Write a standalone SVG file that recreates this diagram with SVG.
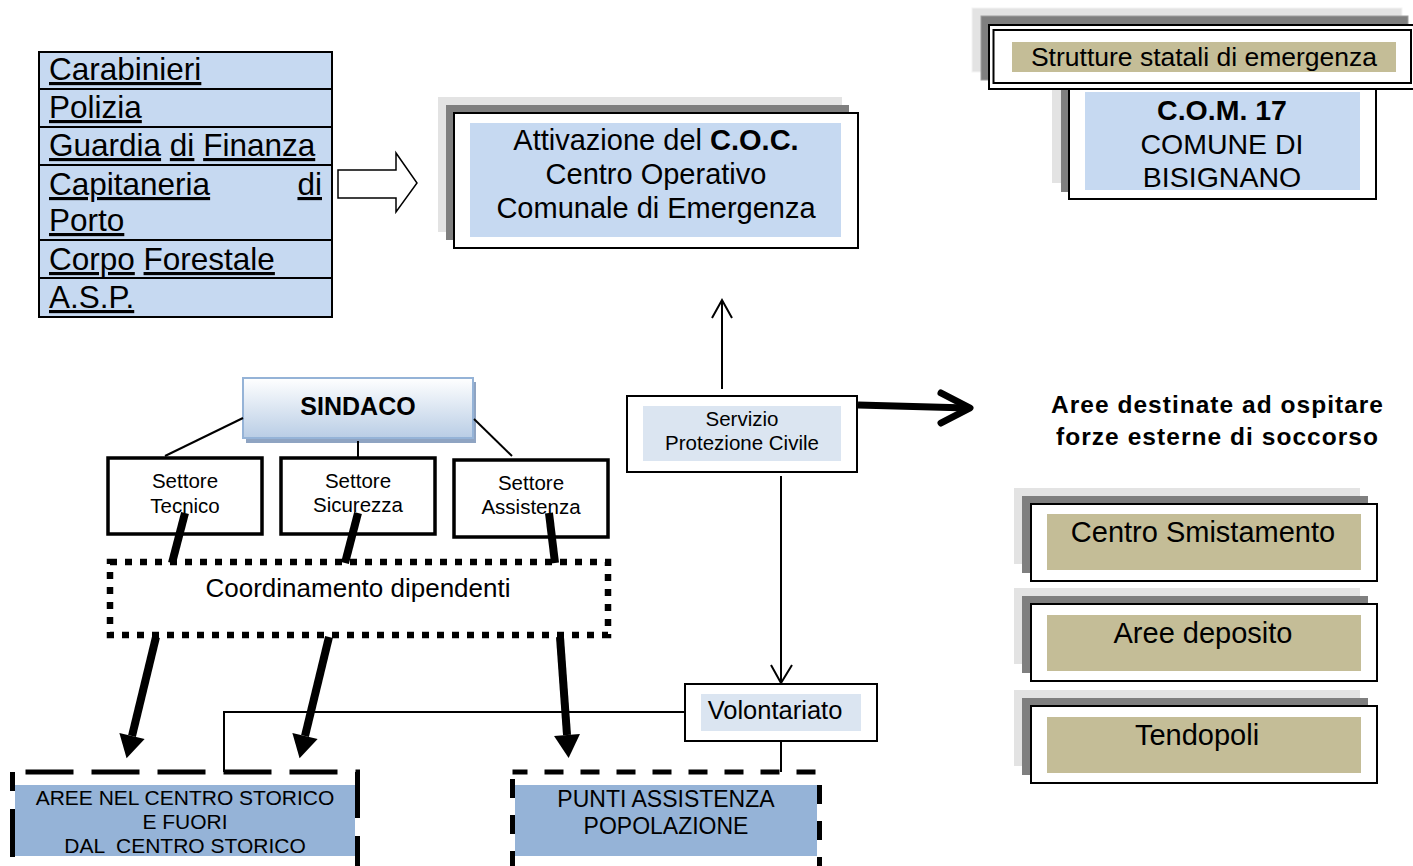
<svg xmlns="http://www.w3.org/2000/svg" width="1413" height="866" viewBox="0 0 1413 866">
  <defs>
    <style>
      text { font-family: "Liberation Sans", Arial, sans-serif; fill: #000; }
      .c { text-anchor: middle; }
      .b { font-weight: bold; }
      .u { text-decoration: underline; }
      .frame { fill: #fff; stroke: #000; stroke-width: 2; }
      .thin { fill: none; stroke: #000; stroke-width: 2; }
      .thick { fill: none; stroke: #000; stroke-width: 8; }
      .shL { fill: #e3e3e3; }
      .shD { fill: #7f7f7f; }
      .blue { fill: #c6d9f1; }
      .pale { fill: #dbe5f1; }
      .mid { fill: #95b3d7; }
      .tan { fill: #c4bd97; }
      .sector { fill: #fff; stroke: #000; stroke-width: 3.5; }
    </style>
    <linearGradient id="sindacoGrad" x1="0" y1="0" x2="0" y2="1">
      <stop offset="0" stop-color="#ffffff"/>
      <stop offset="1" stop-color="#b9cde5"/>
    </linearGradient>
    <marker id="solidHead" markerUnits="userSpaceOnUse" markerWidth="24" markerHeight="26" refX="0" refY="13" orient="auto" overflow="visible">
      <path d="M0,0 L23,13 L0,26 Z" fill="#000"/>
    </marker>
  </defs>

  <!-- list of state forces -->
  <g id="forze">
    <rect x="39" y="52" width="293" height="265" class="blue" stroke="#000" stroke-width="2"/>
    <g stroke="#000" stroke-width="2">
      <line x1="39" y1="89" x2="332" y2="89"/>
      <line x1="39" y1="127" x2="332" y2="127"/>
      <line x1="39" y1="165" x2="332" y2="165"/>
      <line x1="39" y1="240" x2="332" y2="240"/>
      <line x1="39" y1="278" x2="332" y2="278"/>
    </g>
    <g font-size="31.5">
      <text x="49" y="80"><tspan class="u">Carabinieri</tspan></text>
      <text x="49" y="118"><tspan class="u">Polizia</tspan></text>
      <text x="49" y="156"><tspan class="u">Guardia</tspan> <tspan class="u">di</tspan> <tspan class="u">Finanza</tspan></text>
      <text x="49" y="195"><tspan class="u">Capitaneria</tspan></text>
      <text x="322" y="195" text-anchor="end"><tspan class="u">di</tspan></text>
      <text x="49" y="231"><tspan class="u">Porto</tspan></text>
      <text x="49" y="270"><tspan class="u">Corpo</tspan> <tspan class="u">Forestale</tspan></text>
      <text x="49" y="308"><tspan class="u">A.S.P.</tspan></text>
    </g>
  </g>

  <!-- C.O.C. -->
  <g id="coc">
    <rect x="438" y="97" width="404" height="135" class="shL"/>
    <rect x="446" y="105" width="403" height="135" class="shD"/>
    <rect x="454" y="113" width="404" height="135" class="frame"/>
    <rect x="470" y="123" width="371" height="114" class="blue"/>
    <g font-size="29" class="c">
      <text x="656" y="150">Attivazione del <tspan class="b">C.O.C.</tspan></text>
      <text x="656" y="184">Centro Operativo</text>
      <text x="656" y="218">Comunale di Emergenza</text>
    </g>
  </g>

  <!-- C.O.M. 17 -->
  <g id="com">
    <rect x="1052" y="86" width="300" height="97" class="shL"/>
    <rect x="1061" y="86" width="300" height="106" class="shD"/>
    <rect x="1069" y="86" width="307" height="113" class="frame"/>
    <rect x="1085" y="92" width="275" height="98" class="blue"/>
    <g font-size="28.5" class="c">
      <text x="1222" y="120" class="b">C.O.M. 17</text>
      <text x="1222" y="154">COMUNE DI</text>
      <text x="1222" y="187">BISIGNANO</text>
    </g>
  </g>

  <!-- state emergency structures -->
  <g id="strutture">
    <rect x="972" y="8" width="430" height="64" class="shL" stroke="#f4f4f4" stroke-width="1"/>
    <rect x="981" y="16" width="427" height="64" class="shD" stroke="#a0a0a0" stroke-width="1"/>
    <rect x="989" y="25" width="430" height="64" class="frame"/>
    <rect x="993.5" y="30" width="417.5" height="53" fill="none" stroke="#000" stroke-width="2"/>
    <rect x="1012" y="42" width="384" height="30" class="tan"/>
    <text x="1204" y="66" font-size="26.5" class="c">Strutture statali di emergenza</text>
  </g>

  <!-- mayor -->
  <g id="sindaco">
    <rect x="246" y="382" width="230" height="61" fill="#8fa4c2"/>
    <rect x="243" y="378" width="230" height="60" fill="url(#sindacoGrad)" stroke="#95b3d7" stroke-width="2"/>
    <text x="358" y="415" font-size="25" class="c b">SINDACO</text>
  </g>

  <g id="settore-tecnico">
    <rect x="108" y="458" width="154" height="76" class="sector"/>
    <text x="185" y="488" font-size="20.5" class="c">Settore</text>
    <text x="185" y="513" font-size="20.5" class="c">Tecnico</text>
  </g>
  <g id="settore-sicurezza">
    <rect x="281" y="458" width="154" height="76" class="sector"/>
    <text x="358" y="488" font-size="20.5" class="c">Settore</text>
    <text x="358" y="512" font-size="20.5" class="c">Sicurezza</text>
  </g>
  <g id="settore-assistenza">
    <rect x="454" y="460" width="154" height="77" class="sector"/>
    <text x="531" y="490" font-size="20.5" class="c">Settore</text>
    <text x="531" y="514" font-size="20.5" class="c">Assistenza</text>
  </g>

  <g id="coordinamento">
    <rect x="110" y="562" width="498" height="73" fill="none" stroke="#000" stroke-width="6.5" stroke-dasharray="7 8"/>
    <text x="358" y="597" font-size="26" class="c">Coordinamento dipendenti</text>
  </g>

  <!-- civil protection service -->
  <g id="protezione-civile">
    <rect x="627" y="396" width="230" height="76" class="frame"/>
    <rect x="643" y="406" width="198" height="55" class="pale"/>
    <text x="742" y="426" font-size="20.5" class="c">Servizio</text>
    <text x="742" y="450" font-size="20.5" class="c">Protezione Civile</text>
  </g>

  <g id="volontariato">
    <rect x="685" y="684" width="192" height="57" class="frame"/>
    <rect x="701" y="694" width="160" height="37" class="pale"/>
    <text x="775" y="719" font-size="25.5" class="c">Volontariato</text>
  </g>

  <!-- areas -->
  <g id="aree-centro-storico">
    <rect x="15" y="785" width="340" height="71" class="mid"/>
    <rect x="12.5" y="772" width="345" height="100" fill="none" stroke="#000" stroke-width="5" stroke-dasharray="48 18" stroke-dashoffset="53"/>
    <g font-size="21" class="c">
      <text x="185" y="805">AREE NEL CENTRO STORICO</text>
      <text x="185" y="829">E FUORI</text>
      <text x="185" y="853" xml:space="preserve">DAL  CENTRO STORICO</text>
    </g>
  </g>

  <g id="punti-assistenza">
    <rect x="515" y="785" width="302" height="71" class="mid"/>
    <rect x="512.5" y="772" width="307" height="100" fill="none" stroke="#000" stroke-width="5" stroke-dasharray="19 17" stroke-dashoffset="4"/>
    <g font-size="23" class="c">
      <text x="666" y="807">PUNTI ASSISTENZA</text>
      <text x="666" y="834">POPOLAZIONE</text>
    </g>
  </g>

  <g id="aree-forze-esterne">
    <text x="1217" y="413" font-size="24.5" class="c b" textLength="332" lengthAdjust="spacing">Aree destinate ad ospitare</text>
    <text x="1217" y="445" font-size="24.5" class="c b" textLength="322" lengthAdjust="spacing">forze esterne di soccorso</text>
  </g>

  <g id="centro-smistamento">
    <rect x="1014" y="488" width="346" height="76" class="shL"/>
    <rect x="1022" y="496" width="346" height="77" class="shD"/>
    <rect x="1031" y="504" width="346" height="77" class="frame"/>
    <rect x="1047" y="514" width="314" height="56" class="tan"/>
    <text x="1203" y="542" font-size="29" class="c">Centro Smistamento</text>
  </g>

  <g id="aree-deposito">
    <rect x="1014" y="588" width="346" height="76" class="shL"/>
    <rect x="1022" y="596" width="346" height="77" class="shD"/>
    <rect x="1031" y="604" width="346" height="77" class="frame"/>
    <rect x="1047" y="615" width="314" height="56" class="tan"/>
    <text x="1203" y="643" font-size="29" class="c">Aree deposito</text>
  </g>

  <g id="tendopoli">
    <rect x="1014" y="690" width="346" height="76" class="shL"/>
    <rect x="1022" y="698" width="346" height="77" class="shD"/>
    <rect x="1031" y="706" width="346" height="77" class="frame"/>
    <rect x="1047" y="717" width="314" height="56" class="tan"/>
    <text x="1197" y="745" font-size="29" class="c">Tendopoli</text>
  </g>

  <!-- connectors -->
  <g id="connectors">
    <!-- hollow block arrow towards the C.O.C. -->
    <path d="M338,170 L396,170 L396,153 L417,183 L396,212 L396,198 L338,198 Z" fill="#fff" stroke="#000" stroke-width="1.5"/>

    <!-- mayor to sectors -->
    <line x1="243" y1="418" x2="165" y2="456" stroke="#000" stroke-width="2"/>
    <line x1="358" y1="441" x2="358" y2="458" stroke="#000" stroke-width="2"/>
    <line x1="474" y1="419" x2="512" y2="456" stroke="#000" stroke-width="2"/>

    <!-- sectors to coordination -->
    <line x1="185" y1="513" x2="172" y2="563" class="thick" stroke-width="7"/>
    <line x1="358" y1="513" x2="345" y2="563" class="thick" stroke-width="7"/>
    <line x1="549" y1="513" x2="555" y2="563" class="thick" stroke-width="7"/>

    <!-- coordination to areas -->
    <line x1="156" y1="637" x2="132" y2="736" class="thick" marker-end="url(#solidHead)"/>
    <line x1="329" y1="637" x2="305" y2="736" class="thick" marker-end="url(#solidHead)"/>
    <line x1="560" y1="637" x2="567" y2="735" class="thick" marker-end="url(#solidHead)"/>

    <!-- civil protection links -->
    <line x1="722" y1="389" x2="722" y2="301" class="thin"/>
    <polyline points="712,318 722,300 732,318" class="thin"/>
    <line x1="781" y1="476" x2="781" y2="682" class="thin"/>
    <polyline points="771,665 781,683 792,665" class="thin"/>
    <line x1="858" y1="405" x2="968" y2="408" stroke="#000" stroke-width="7"/>
    <polyline points="941,393 970,408 941,423" fill="none" stroke="#000" stroke-width="7" stroke-linecap="round" stroke-linejoin="round"/>

    <!-- volunteers to areas -->
    <polyline points="685,712 224,712 224,772" class="thin"/>
    <line x1="781" y1="741" x2="781" y2="772" class="thin"/>
  </g>
</svg>
